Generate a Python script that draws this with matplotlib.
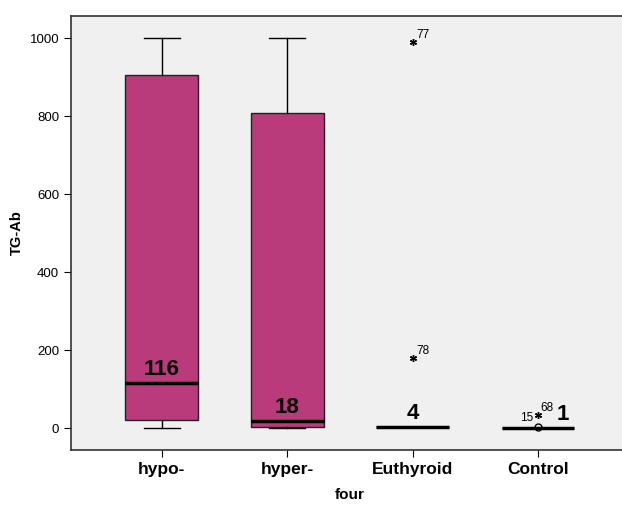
import matplotlib.pyplot as plt
import numpy as np

plt.rcParams['font.family'] = ['Liberation Sans', 'DejaVu Sans']

groups = ['hypo-', 'hyper-', 'Euthyroid', 'Control']
q1 = [20, 3, 4, 1]
medians = [116, 18, 4, 1]
q3 = [905, 808, 4, 1]
whislo = [0, 0, 4, 1]
whishi = [1000, 1000, 4, 1]
median_labels = ['116', '18', '4', '1']

# outliers: (group index, value, case label, marker)
out_group = [2, 2, 3, 3]
out_value = [990, 179, 33, 2]
out_label = ['77', '78', '15', '68']
out_marker = ['*', '*', '*', 'o']

box_color = '#b93b7b'

fig = plt.figure(figsize=(6.22, 5.05), dpi=100)
ax = fig.add_axes([0.114, 0.109, 0.897, 0.859])
ax.set_facecolor('#f0f0f0')

stats = []
for i, g in enumerate(groups):
    stats.append({'label': g, 'q1': q1[i], 'med': medians[i], 'q3': q3[i],
                  'whislo': whislo[i], 'whishi': whishi[i], 'fliers': []})

pos = np.arange(len(groups))
ax.bxp(stats, positions=pos, widths=0.58, patch_artist=True, showfliers=False,
       boxprops=dict(facecolor=box_color, edgecolor='#222222', linewidth=1),
       medianprops=dict(color='black', linewidth=2.5),
       whiskerprops=dict(color='black', linewidth=1),
       capprops=dict(color='black', linewidth=1), capwidths=0.29)

for gi, v, m in zip(out_group, out_value, out_marker):
    if m == '*':
        ax.plot(pos[gi], v, marker=(6, 2, 0), color='black', markersize=5,
                markeredgewidth=1.0, linestyle='none')
    else:
        ax.plot(pos[gi], v, marker='o', markerfacecolor='none', markeredgecolor='black',
                markersize=5, linestyle='none')

# case labels
ax.annotate('77', (pos[2], 990), xytext=(3, 3), textcoords='offset points', fontsize=8.5)
ax.annotate('78', (pos[2], 179), xytext=(3, 3), textcoords='offset points', fontsize=8.5)
ax.annotate('15', (pos[3], 33), xytext=(-3, -4), textcoords='offset points', fontsize=8.5, ha='right')
ax.annotate('68', (pos[3], 33), xytext=(2, 3), textcoords='offset points', fontsize=8.5)

# median labels
for i, lab in enumerate(median_labels):
    dx = 18 if i == 3 else 0
    ax.annotate(lab, (pos[i], medians[i]), xytext=(dx, 2), textcoords='offset points',
                fontsize=16, fontweight='bold', ha='center', va='bottom')

ax.set_xlim(-0.725, 3.725)
ax.set_ylim(-56, 1056)
ax.set_yticks([0, 200, 400, 600, 800, 1000])
ax.set_xticks(pos)
ax.set_xticklabels(groups, fontsize=12.5, fontweight='bold')
ax.tick_params(axis='y', labelsize=9.5, length=5)
ax.tick_params(axis='x', length=5)
ax.set_ylabel('TG-Ab', fontsize=10.5, fontweight='bold')
ax.set_xlabel('four', fontsize=11, fontweight='bold', labelpad=8)
for s in ax.spines.values():
    s.set_color('#333333')
    s.set_linewidth(1.2)

fig.savefig('out.png', dpi=100)
